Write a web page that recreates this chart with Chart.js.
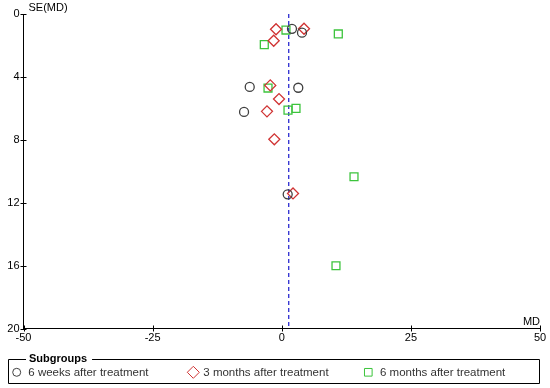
<!DOCTYPE html>
<html lang="en">
<head>
    <meta charset="UTF-8">
    <title>Funnel plot - Subgroups</title>
    <script src="https://cdn.jsdelivr.net/npm/chart.js"></script>
    <style>
        html, body { margin: 0; padding: 0; background: #fff; }
        canvas { display: block; }
    </style>
</head>
<body>
    <canvas id="funnelChart" width="550" height="388"></canvas>
    <script>
        // Donnees (MD en x, SE(MD) en y)
        const seriesNames = ['6 weeks after treatment', '3 months after treatment', '6 months after treatment'];
        const weeks6MD = [1.98, 3.92, -6.2, 3.2, -7.3, 1.15];
        const weeks6SE = [0.94, 1.19, 4.64, 4.69, 6.23, 11.47];
        const months3MD = [-1.11, 4.31, -1.56, -2.22, -0.53, -2.86, -1.44, 2.18];
        const months3SE = [0.97, 0.94, 1.70, 4.54, 5.41, 6.19, 7.97, 11.41];
        const months6MD = [0.82, 10.95, -3.38, -2.66, 1.21, 2.76, 13.99, 10.5];
        const months6SE = [1.02, 1.27, 1.95, 4.71, 6.11, 6.0, 10.35, 16.01];
        const pooledMD = [1.35, 1.35];
        const pooledSE = [0, 20];
        const xTicks = [-50, -25, 0, 25, 50];
        const yTicks = [0, 4, 8, 12, 16, 20];

        const FONT = '"Liberation Sans", Arial, sans-serif';
        const toPoints = (xs, ys) => xs.map((v, i) => ({ x: v, y: ys[i] }));

        const markers = [
            { style: 'circle', color: '#404040', radius: 4.5, legendRadius: 4 },
            { style: 'rectRot', color: '#d03333', radius: 5.5, legendRadius: 6 },
            { style: 'rect', color: '#3cc43c', radius: 5.6, legendRadius: 5.4 }
        ];

        const pointSets = [
            toPoints(weeks6MD, weeks6SE),
            toPoints(months3MD, months3SE),
            toPoints(months6MD, months6SE)
        ];

        const datasets = pointSets.map((pts, i) => ({
            label: seriesNames[i],
            data: pts,
            pointStyle: markers[i].style,
            pointRadius: markers[i].radius,
            pointBorderColor: markers[i].color,
            pointBackgroundColor: 'rgba(0,0,0,0)',
            pointBorderWidth: 1.3,
            showLine: false
        }));

        // ligne verticale pointillee (effet global)
        datasets.push({
            label: 'pooled',
            data: toPoints(pooledMD, pooledSE),
            showLine: true,
            borderColor: '#2a2ad0',
            borderWidth: 1.3,
            borderDash: [4, 3],
            pointRadius: 0
        });

        // ticks qui traversent les axes, titres d'axes et legende encadree
        const extras = {
            id: 'extras',
            afterDraw(chart) {
                const { ctx, scales: { x, y } } = chart;
                ctx.save();
                ctx.strokeStyle = '#000';
                ctx.lineWidth = 1;
                ctx.beginPath();
                yTicks.forEach(v => {
                    const py = Math.round(y.getPixelForValue(v)) + 0.5;
                    ctx.moveTo(x.left - 3, py);
                    ctx.lineTo(x.left + 3, py);
                });
                xTicks.forEach(v => {
                    const px = Math.round(x.getPixelForValue(v)) + 0.5;
                    ctx.moveTo(px, y.bottom - 3);
                    ctx.lineTo(px, y.bottom + 3);
                });
                ctx.stroke();

                ctx.fillStyle = '#000';
                ctx.font = '11px ' + FONT;
                ctx.textBaseline = 'middle';
                ctx.textAlign = 'left';
                ctx.fillText('SE(MD)', x.left + 5, y.top - 6);
                ctx.textAlign = 'right';
                ctx.fillText('MD', x.right, y.bottom - 7);

                // legende
                const boxL = 8.5, boxR = 539.5, boxT = 359.5, boxB = 383.5;
                ctx.font = 'bold 11px ' + FONT;
                ctx.textAlign = 'left';
                const titleX = 29;
                const titleW = ctx.measureText('Subgroups').width;
                ctx.fillText('Subgroups', titleX, boxT - 1);
                ctx.beginPath();
                ctx.moveTo(titleX - 3, boxT);
                ctx.lineTo(boxL, boxT);
                ctx.lineTo(boxL, boxB);
                ctx.lineTo(boxR, boxB);
                ctx.lineTo(boxR, boxT);
                ctx.lineTo(titleX + titleW + 5, boxT);
                ctx.stroke();

                const itemY = 372.3;
                const markerX = [16.7, 193.3, 368.3];
                const textX = [28.3, 203.3, 380];
                ctx.font = '11.5px ' + FONT;
                seriesNames.forEach((name, i) => {
                    ctx.strokeStyle = markers[i].color;
                    ctx.fillStyle = 'rgba(0,0,0,0)';
                    Chart.helpers.drawPoint(ctx, {
                        pointStyle: markers[i].style,
                        radius: markers[i].legendRadius,
                        rotation: 0,
                        borderWidth: 1.3
                    }, markerX[i], itemY);
                    ctx.fillStyle = '#333';
                    ctx.fillText(name, textX[i], itemY + 1);
                });
                ctx.restore();
            }
        };

        const ctx = document.getElementById('funnelChart').getContext('2d');
        const funnelChart = new Chart(ctx, {
            type: 'scatter',
            data: { datasets: datasets },
            options: {
                responsive: false,
                animation: false,
                layout: { padding: { left: 0, right: 10, top: 14, bottom: 39.5 } },
                plugins: {
                    legend: { display: false },
                    tooltip: { enabled: false }
                },
                scales: {
                    x: {
                        type: 'linear',
                        min: -50,
                        max: 50,
                        afterBuildTicks: s => { s.ticks = xTicks.map(v => ({ value: v })); },
                        afterFit: s => { s.height = 20; },
                        grid: { display: false, drawTicks: false },
                        border: { display: true, color: '#000', width: 1 },
                        ticks: {
                            padding: 3,
                            color: '#000',
                            maxRotation: 0,
                            autoSkip: false,
                            font: { family: FONT, size: 11 }
                        }
                    },
                    y: {
                        type: 'linear',
                        reverse: true,
                        min: 0,
                        max: 20,
                        afterBuildTicks: s => { s.ticks = yTicks.map(v => ({ value: v })); },
                        afterFit: s => { s.width = 23.5; },
                        grid: { display: false, drawTicks: false },
                        border: { display: true, color: '#000', width: 1 },
                        ticks: {
                            padding: 4,
                            color: '#000',
                            autoSkip: false,
                            font: { family: FONT, size: 11 }
                        }
                    }
                }
            },
            plugins: [extras]
        });
    </script>
</body>
</html>
